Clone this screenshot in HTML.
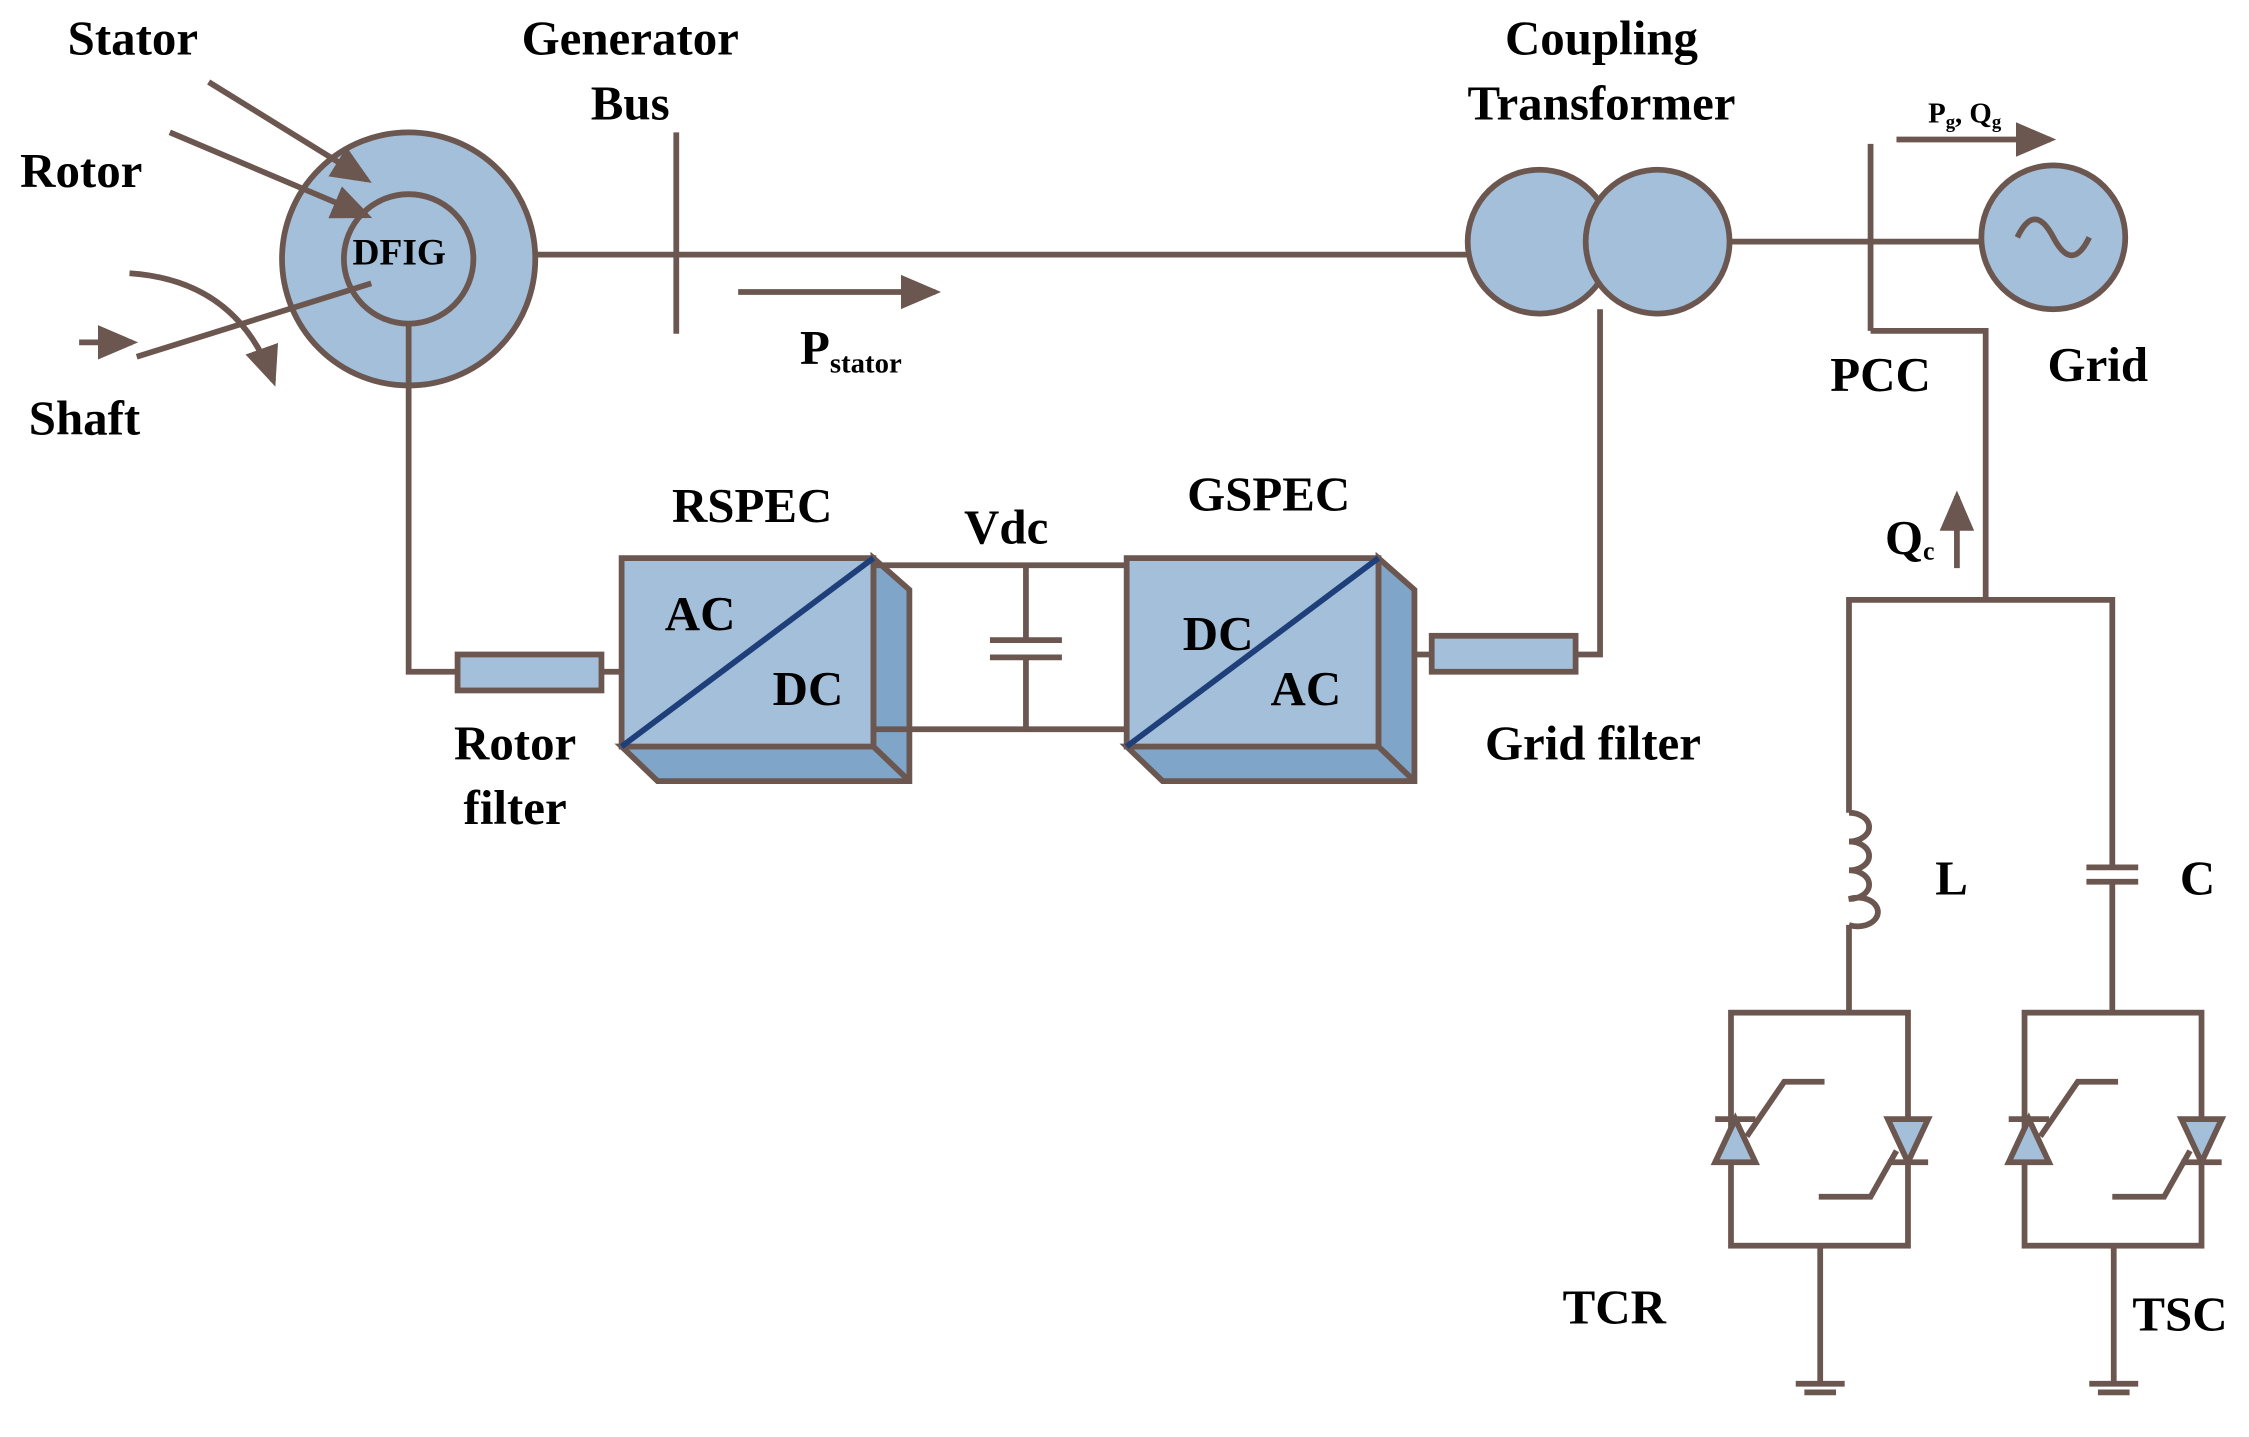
<!DOCTYPE html>
<html><head><meta charset="utf-8"><style>
html,body{margin:0;padding:0;background:#fff;}
svg{display:block;}
text{font-family:"Liberation Serif",serif;font-weight:bold;fill:#000;}
</style></head><body>
<svg width="2249" height="1437" viewBox="0 0 1563 999" preserveAspectRatio="none" xmlns="http://www.w3.org/2000/svg">
<defs>
<marker id="ah" markerWidth="8" markerHeight="8" refX="6" refY="4" orient="auto" markerUnits="strokeWidth">
<path d="M0,1 L7,4 L0,7 z" fill="#6b5750"/></marker>
</defs>
<g stroke="#6b5750" stroke-width="4" fill="none">
<!-- DFIG -->
<circle cx="284" cy="180" r="88" fill="#a3bfd9"/>
<circle cx="284" cy="180" r="45" fill="#a3bfd9"/>
<line x1="372" y1="177" x2="1022" y2="177"/>
<line x1="470" y1="92" x2="470" y2="232"/>
<line x1="513" y1="203" x2="650" y2="203" marker-end="url(#ah)"/>
<!-- stator/rotor/shaft arrows -->
<line x1="145" y1="57" x2="255" y2="125" marker-end="url(#ah)"/>
<line x1="118" y1="92" x2="255" y2="150" marker-end="url(#ah)"/>
<line x1="95" y1="248" x2="258" y2="197"/>
<line x1="55" y1="238" x2="92" y2="238" marker-end="url(#ah)"/>
<path d="M90,190 Q165,195 190,265" marker-end="url(#ah)"/>
<!-- transformer -->
<circle cx="1070" cy="168" r="50" fill="#a3bfd9"/>
<circle cx="1152" cy="168" r="50" fill="#a3bfd9"/>
<line x1="1202" y1="168" x2="1378" y2="168"/>
<line x1="1300" y1="100" x2="1300" y2="230"/>
<polyline points="1300,230 1380,230 1380,417"/>
<line x1="1318" y1="97" x2="1425" y2="97" marker-end="url(#ah)"/>
<circle cx="1427" cy="165" r="50" fill="#a3bfd9"/>
<path d="M1402,165 Q1414,140 1427,165 Q1440,190 1452,165"/>
<line x1="1360" y1="395" x2="1360" y2="345" marker-end="url(#ah)"/>
<!-- branches -->
<polyline points="1285,565 1285,417 1468,417 1468,603"/>
<path d="M1285,565 a14,10 0 1 1 0,20 a14,10 0 1 1 0,20 a14,10 0 1 1 0,20 a14,10 0 1 1 0,18"/>
<line x1="1285" y1="643" x2="1285" y2="704"/>
<line x1="1450" y1="603" x2="1486" y2="603"/>
<line x1="1450" y1="613" x2="1486" y2="613"/>
<line x1="1468" y1="613" x2="1468" y2="704"/>
<!-- TCR/TSC -->
<g id="th">
<rect x="1203" y="704" width="123" height="162"/>
<path d="M1192,808 L1220,808 L1206,778 z" fill="#a3bfd9"/>
<line x1="1192" y1="778" x2="1220" y2="778"/>
<polyline points="1214,790 1240,752 1268,752"/>
<path d="M1312,778 L1340,778 L1326,808 z" fill="#a3bfd9"/>
<line x1="1312" y1="808" x2="1340" y2="808"/>
<polyline points="1264,832 1300,832 1318,800"/>
<line x1="1265" y1="866" x2="1265" y2="962"/>
<line x1="1248" y1="962" x2="1282" y2="962"/>
<line x1="1254" y1="968" x2="1276" y2="968"/>
</g>
<use href="#th" transform="translate(204,0)"/>
<!-- rotor path -->
<polyline points="284,225 284,467 318,467"/>
<rect x="318" y="455" width="100" height="25" fill="#a3bfd9"/>
<line x1="418" y1="467" x2="432" y2="467"/>
<!-- RSPEC -->
<polygon points="607,388 632,410 632,543 457,543 432,519 607,519" fill="#7fa5c8"/>
<rect x="432" y="388" width="175" height="131" fill="#a3bfd9"/>
<line x1="607" y1="519" x2="632" y2="543"/>
<line x1="607" y1="393" x2="783" y2="393"/>
<line x1="607" y1="507" x2="783" y2="507"/>
<line x1="713" y1="393" x2="713" y2="445"/>
<line x1="688" y1="445" x2="738" y2="445"/>
<line x1="688" y1="457" x2="738" y2="457"/>
<line x1="713" y1="457" x2="713" y2="507"/>
<!-- GSPEC -->
<polygon points="958,388 983,410 983,543 808,543 783,519 958,519" fill="#7fa5c8"/>
<rect x="783" y="388" width="175" height="131" fill="#a3bfd9"/>
<line x1="958" y1="519" x2="983" y2="543"/>
<line x1="983" y1="455" x2="995" y2="455"/>
<rect x="995" y="442" width="100" height="25" fill="#a3bfd9"/>
<polyline points="1095,455 1112,455 1112,215"/>
</g>
<line x1="432" y1="519" x2="607" y2="388" stroke="#1f3f7a" stroke-width="4"/>
<line x1="783" y1="519" x2="958" y2="388" stroke="#1f3f7a" stroke-width="4"/>
<g font-size="34">
<text x="47" y="38">Stator</text>
<text x="14" y="130">Rotor</text>
<text x="20" y="302">Shaft</text>
<text x="438" y="38" text-anchor="middle">Generator</text>
<text x="438" y="83" text-anchor="middle">Bus</text>
<text x="1113" y="38" text-anchor="middle">Coupling</text>
<text x="1113" y="83" text-anchor="middle">Transformer</text>
<text x="1272" y="272">PCC</text>
<text x="1423" y="265">Grid</text>
<text x="467" y="363">RSPEC</text>
<text x="670" y="378">Vdc</text>
<text x="825" y="355">GSPEC</text>
<text x="462" y="438">AC</text>
<text x="537" y="490">DC</text>
<text x="822" y="452">DC</text>
<text x="883" y="490">AC</text>
<text x="358" y="528" text-anchor="middle">Rotor</text>
<text x="358" y="573" text-anchor="middle">filter</text>
<text x="1032" y="528">Grid filter</text>
<text x="1345" y="622">L</text>
<text x="1515" y="622">C</text>
<text x="1086" y="920">TCR</text>
<text x="1482" y="925">TSC</text>
<text x="556" y="253" fill="#555">P<tspan font-size="20" dy="6">stator</tspan></text>
<text x="1310" y="385">Q<tspan font-size="18" dy="4">c</tspan></text>
</g>
<text x="245" y="184" font-size="26" font-family="Liberation Sans,sans-serif">DFIG</text>
<text x="1340" y="85" font-size="20">P<tspan font-size="13" dy="4">g</tspan><tspan dy="-4">, Q</tspan><tspan font-size="13" dy="4">g</tspan></text>
</svg>
</body></html>
